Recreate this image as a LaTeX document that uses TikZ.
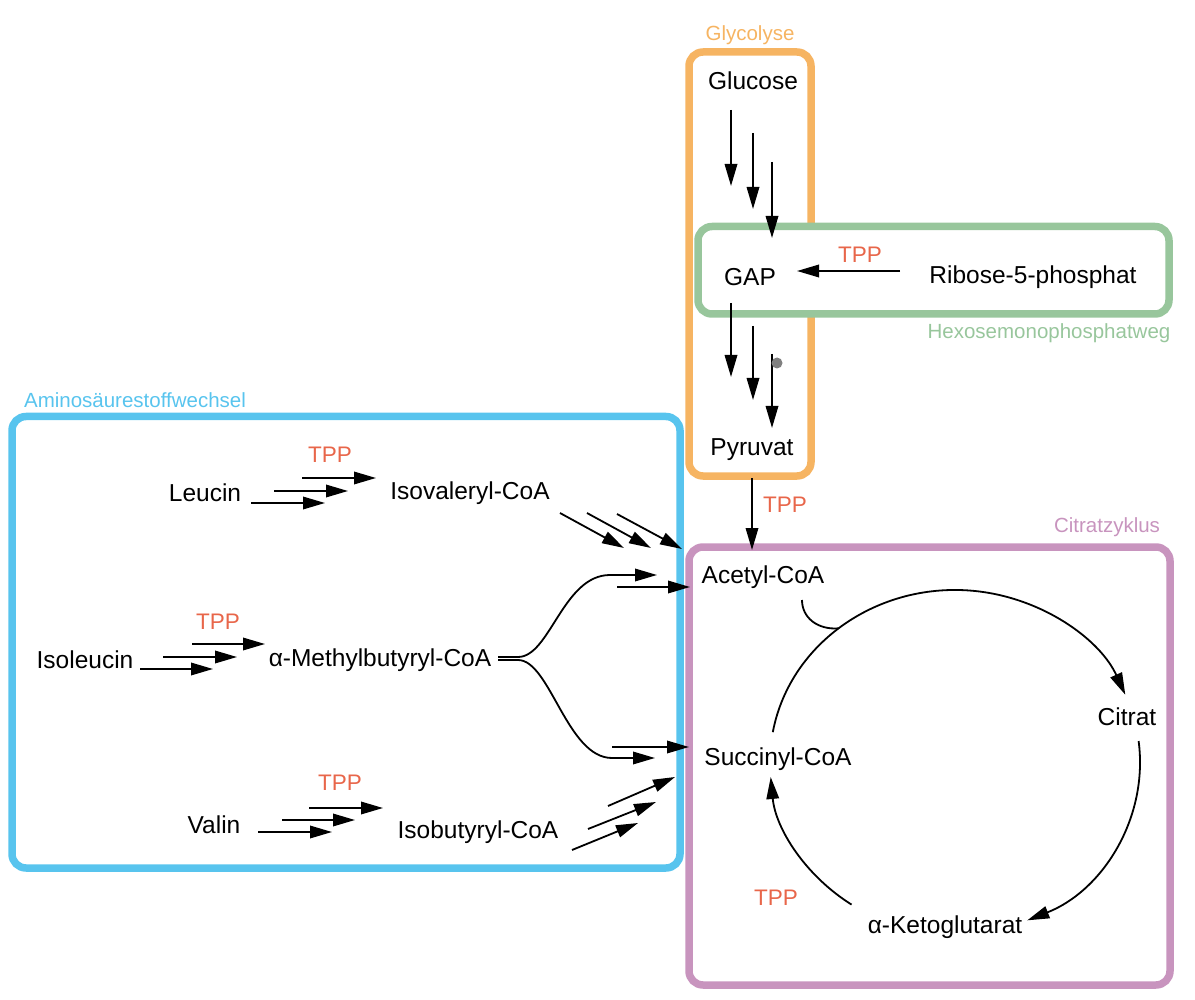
\documentclass[tikz,border=0pt]{standalone}
\usepackage{fontspec}
\setmainfont{Liberation Sans}
\usetikzlibrary{arrows.meta,calc}
\definecolor{orng}{HTML}{F6B462}
\definecolor{grn}{HTML}{98C69C}
\definecolor{blu}{HTML}{58C4EE}
\definecolor{purp}{HTML}{C894BE}
\definecolor{tppred}{HTML}{E8664A}
\begin{document}
\begin{tikzpicture}[x=1pt,y=-1pt,
  txt/.style={font=\fontsize{24.5}{29}\selectfont, inner sep=0pt},
  tpp/.style={font=\fontsize{22.5}{27}\selectfont, text=tppred, inner sep=0pt},
  grp/.style={font=\fontsize{20.5}{24}\selectfont, inner sep=0pt},
  arr/.style={line width=1.8pt, -{Triangle[length=22pt,width=12.5pt]}},
  ln/.style={line width=1.8pt},
  grpbox/.style={line width=7.5pt, rounded corners=14pt}]
\useasboundingbox (0,0) rectangle (1195,1000);

% group boxes
\draw[grpbox, orng] (689,52) rectangle (811,476);
\draw[grpbox, grn, fill=white] (698,226.5) rectangle (1169,314);
\draw[grpbox, blu] (12,416.5) rectangle (680,868);
\draw[grpbox, purp] (689,547) rectangle (1170,985);

% group labels
\node[grp, text=orng] (lglyc) at (750,35) {Glycolyse};
\node[grp, text=grn] (lhex) at (1049,333) {Hexosemonophosphatweg};
\node[grp, text=blu] (lamino) at (135,400) {Aminosäurestoffwechsel};
\node[grp, text=purp] (lcit) at (1107,527) {Citratzyklus};

% metabolites
\node[txt] (glucose) at (753,81) {Glucose};
\node[txt] (gap) at (750,277) {GAP};
\node[txt] (ribose) at (1033,277) {Ribose-5-phosphat};
\node[txt] (pyruvat) at (752,450) {Pyruvat};
\node[txt] (leucin) at (205,493) {Leucin};
\node[txt] (isoval) at (470,493) {Isovaleryl-CoA};
\node[txt] (isoleucin) at (85,660) {Isoleucin};
\node[txt] (methyl) at (380,660) {α-Methylbutyryl-CoA};
\node[txt] (valin) at (214,825) {Valin};
\node[txt] (isobut) at (478,832) {Isobutyryl-CoA};
\node[txt] (acetyl) at (763,577) {Acetyl-CoA};
\node[txt] (citrat) at (1127,717) {Citrat};
\node[txt] (succinyl) at (778,759) {Succinyl-CoA};
\node[txt] (aketo) at (945,927) {α-Ketoglutarat};

% TPP labels
\node[tpp] (t1) at (860,255) {TPP};
\node[tpp] (t2) at (785,505) {TPP};
\node[tpp] (t3) at (330,455) {TPP};
\node[tpp] (t4) at (218,622) {TPP};
\node[tpp] (t5) at (340,783) {TPP};
\node[tpp] (t6) at (776,898) {TPP};

% glycolysis arrows
\coordinate (g1a) at (731,110); \coordinate (g1b) at (731,186);
\coordinate (g2a) at (753,133); \coordinate (g2b) at (753,209);
\coordinate (g3a) at (772,162); \coordinate (g3b) at (772,238);
\draw[arr] (g1a) -- (g1b);
\draw[arr] (g2a) -- (g2b);
\draw[arr] (g3a) -- (g3b);
\coordinate (p1a) at (731,303); \coordinate (p1b) at (731,377);
\coordinate (p2a) at (753,326); \coordinate (p2b) at (753,400);
\coordinate (p3a) at (772,354); \coordinate (p3b) at (772,428);
\draw[arr] (p1a) -- (p1b);
\draw[arr] (p2a) -- (p2b);
\draw[arr] (p3a) -- (p3b);
\fill[black!50] (777,363) circle (5.5);

% ribose -> GAP
\coordinate (ra) at (900,271); \coordinate (rb) at (797,271);
\draw[arr] (ra) -- (rb);
% pyruvat -> acetyl
\coordinate (pya) at (752,478); \coordinate (pyb) at (752,550);
\draw[arr] (pya) -- (pyb);

% Leucin
\coordinate (l1a) at (251,503); \coordinate (l1b) at (325,503);
\coordinate (l2a) at (274,491); \coordinate (l2b) at (348,491);
\coordinate (l3a) at (302,478); \coordinate (l3b) at (376,478);
\draw[arr] (l1a) -- (l1b);
\draw[arr] (l2a) -- (l2b);
\draw[arr] (l3a) -- (l3b);
\coordinate (d1a) at (560,513); \coordinate (d1b) at (624,548);
\coordinate (d2a) at (587,513); \coordinate (d2b) at (651,548);
\coordinate (d3a) at (617,514); \coordinate (d3b) at (682,549);
\draw[arr] (d1a) -- (d1b);
\draw[arr] (d2a) -- (d2b);
\draw[arr] (d3a) -- (d3b);

% Isoleucin
\coordinate (i1a) at (140,669); \coordinate (i1b) at (213,669);
\coordinate (i2a) at (163,657); \coordinate (i2b) at (237,657);
\coordinate (i3a) at (192,644); \coordinate (i3b) at (265,644);
\draw[arr] (i1a) -- (i1b);
\draw[arr] (i2a) -- (i2b);
\draw[arr] (i3a) -- (i3b);
\coordinate (m1a) at (498,657); \coordinate (m1b) at (657,575);
\coordinate (m2a) at (498,660); \coordinate (m2b) at (655,758);
\draw[arr] (m1a) -- (518,657) .. controls (550,657) and (563,575) .. (610,575) -- (m1b);
\draw[arr] (m2a) -- (518,660) .. controls (550,660) and (567,758) .. (612,758) -- (m2b);
\coordinate (s1a) at (617,587); \coordinate (s1b) at (690,587);
\coordinate (s2a) at (612,747); \coordinate (s2b) at (689,747);
\draw[arr] (s1a) -- (s1b);
\draw[arr] (s2a) -- (s2b);

% Valin
\coordinate (v1a) at (258,832); \coordinate (v1b) at (332,832);
\coordinate (v2a) at (282,820); \coordinate (v2b) at (355,820);
\coordinate (v3a) at (309,808); \coordinate (v3b) at (383,808);
\draw[arr] (v1a) -- (v1b);
\draw[arr] (v2a) -- (v2b);
\draw[arr] (v3a) -- (v3b);
\coordinate (b1a) at (572,850); \coordinate (b1b) at (638,823);
\coordinate (b2a) at (588,829); \coordinate (b2b) at (656,802);
\coordinate (b3a) at (608,806); \coordinate (b3b) at (675,777);
\draw[arr] (b1a) -- (b1b);
\draw[arr] (b2a) -- (b2b);
\draw[arr] (b3a) -- (b3b);

% citric acid cycle
\coordinate (cc) at (955,762);
\draw[arr] ($(cc)+(-170:185 and 172)$) arc[start angle=-170, end angle=-23, x radius=185, y radius=172];
\draw[arr] ($(cc)+(-7:185 and 172)$) arc[start angle=-7, end angle=67, x radius=185, y radius=172];
\draw[arr] ($(cc)+(124:185 and 172)$) arc[start angle=124, end angle=175, x radius=185, y radius=172];
\coordinate (hooka) at (802,600);
\coordinate (hookb) at ($(cc)+(-129:185 and 172)$);
\draw[ln] (hooka) .. controls (802,618) and (818,630) .. (hookb);
\end{tikzpicture}
\end{document}
